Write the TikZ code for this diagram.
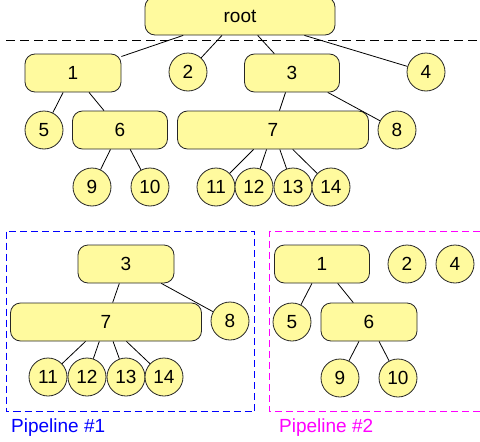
\documentclass[tikz,border=0pt]{standalone}
\usepackage{fontspec}
\setmainfont{Liberation Sans}
\definecolor{nodefill}{RGB}{255,250,158}
\definecolor{pipeblue}{RGB}{0,0,255}
\definecolor{pipemag}{RGB}{255,0,255}
\begin{document}
\begin{tikzpicture}[x=1pt,y=-1pt,
  base/.style={draw=black!85,fill=nodefill,line width=0.8pt,inner sep=0pt,font=\fontsize{19}{22}\selectfont},
  rbox/.style={base,rounded corners=10pt,minimum height=38pt},
  circ/.style={base,circle,minimum size=38pt},
  edge/.style={line width=0.8pt,black},
  pipebox/.style={dashed,dash pattern=on 7pt off 4pt,line width=1pt},
  pipelabel/.style={anchor=base west,inner sep=0pt,font=\fontsize{19}{22}\selectfont}]
\useasboundingbox (0,0) rectangle (480,442);
% top tree
\node[rbox,minimum width=190pt] (root) at (240,16) {root};
\draw[dashed,dash pattern=on 9pt off 5pt,line width=0.8pt] (6,40) -- (480,40);
\node[rbox,minimum width=96pt] (n1) at (73,73) {1};
\node[circ] (n2) at (188,72) {2};
\node[rbox,minimum width=95pt] (n3) at (292,73) {3};
\node[circ] (n4) at (426,72) {4};
\node[circ] (n5) at (44,130) {5};
\node[rbox,minimum width=95pt] (n6) at (120,130) {6};
\node[rbox,minimum width=191pt] (n7) at (273,130) {7};
\node[circ] (n8) at (397,130) {8};
\node[circ] (n9) at (92,187) {9};
\node[circ] (n10) at (150,187) {10};
\node[circ] (n11) at (216,187) {11};
\node[circ] (n12) at (254,187) {12};
\node[circ] (n13) at (293,187) {13};
\node[circ] (n14) at (331,187) {14};
\foreach \a/\b in {root/n1,root/n2,root/n3,root/n4,n1/n5,n1/n6,n3/n7,n3/n8,n6/n9,n6/n10,n7/n11,n7/n12,n7/n13,n7/n14}
  \draw[edge] (\a) -- (\b);
% pipeline 1
\draw[pipeblue,pipebox] (6.5,231.5) rectangle (254.5,411.5);
\node[pipelabel,text=pipeblue] (p1) at (11,432) {Pipeline \#1};
\node[rbox,minimum width=96pt] (b3) at (126,264) {3};
\node[rbox,minimum width=191pt] (b7) at (106,322) {7};
\node[circ] (b8) at (230,321) {8};
\node[circ] (b11) at (48,377) {11};
\node[circ] (b12) at (87,377) {12};
\node[circ] (b13) at (126,377) {13};
\node[circ] (b14) at (164,377) {14};
% pipeline 2
\draw[pipemag,pipebox] (480,231.5) -- (269.5,231.5) -- (269.5,411.5) -- (480,411.5);
\node[pipelabel,text=pipemag] (p2) at (279,432) {Pipeline \#2};
\node[rbox,minimum width=95pt] (c1) at (322,264) {1};
\node[circ] (c2) at (407,264) {2};
\node[circ] (c4) at (455,264) {4};
\node[circ] (c5) at (292,322) {5};
\node[rbox,minimum width=96pt] (c6) at (369,322) {6};
\node[circ] (c9) at (340,378) {9};
\node[circ] (c10) at (398,378) {10};
\foreach \a/\b in {b3/b7,b3/b8,b7/b11,b7/b12,b7/b13,b7/b14,c1/c5,c1/c6,c6/c9,c6/c10}
  \draw[edge] (\a) -- (\b);
\end{tikzpicture}
\end{document}
